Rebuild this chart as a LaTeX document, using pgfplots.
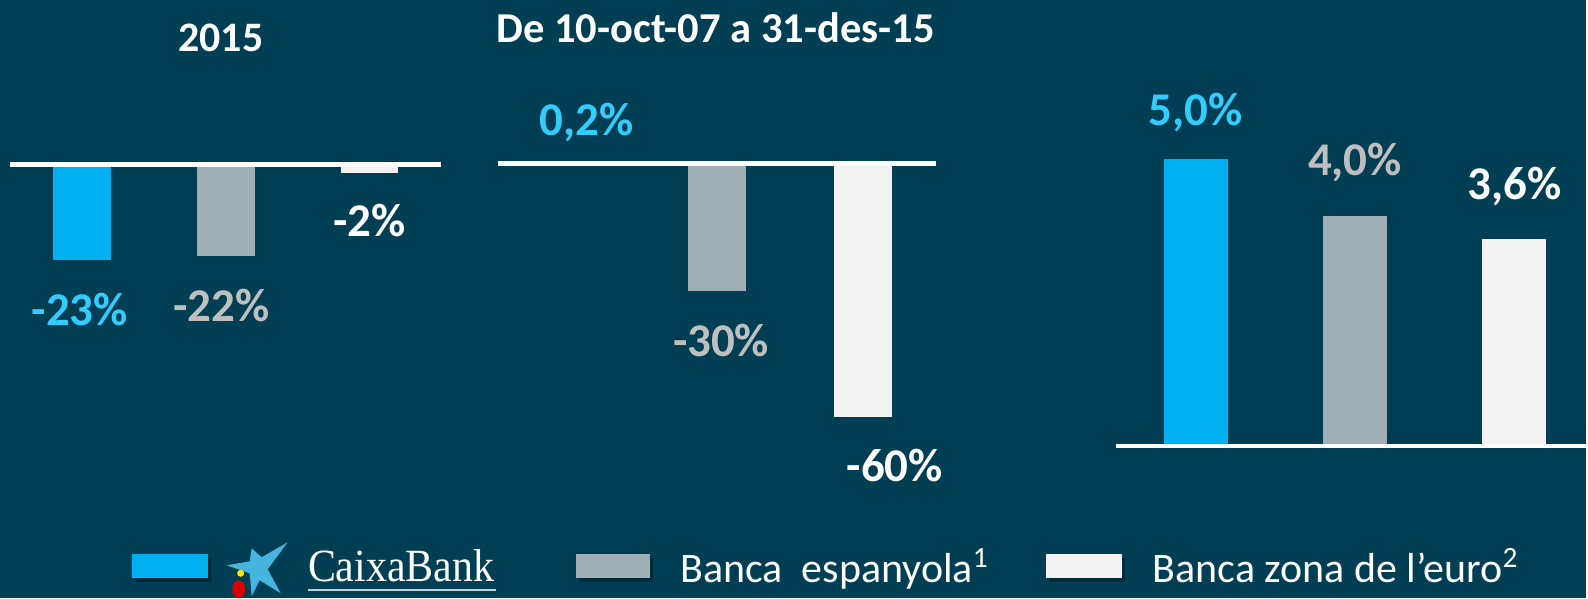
\documentclass[border=0pt]{standalone}
\usepackage{pgfplots}
\pgfplotsset{compat=1.18}
\usepackage{fontspec}
\setmainfont{Carlito}
\newfontfamily\logofont{Liberation Serif}

\definecolor{bg}{HTML}{003E53}
\definecolor{cbcyan}{HTML}{00B0F0}
\definecolor{cbgray}{HTML}{A0AEB6}
\definecolor{cbwhite}{HTML}{F2F2F2}
\definecolor{labcyan}{HTML}{33CCFF}
\definecolor{labgray}{HTML}{BFBFBF}
\definecolor{starblue}{HTML}{45B5E0}
\definecolor{cbline}{HTML}{C8D0D8}

\pgfplotsset{
  panel/.style={hide axis, clip=false, anchor=south west, ybar,
    point meta=explicit symbolic, nodes near coords,
    nodes near coords style={font=\bfseries\fontsize{23.5}{27}\selectfont, anchor=center}},
  cb/.style={draw=none, bar shift=0pt},
}

\begin{document}
\begin{tikzpicture}
\fill[bg] (0,0) rectangle (794pt,299.5pt);

% titles
\node[anchor=base, white, font=\bfseries\fontsize{21}{24}\selectfont, inner sep=0] at (110.5pt,273.5pt) {2015};
\node[anchor=base, white, font=\bfseries\fontsize{21.3}{24}\selectfont, inner sep=0] at (358.25pt,278pt) {De 10-oct-07 a 31-des-15};

% 2015
\begin{axis}[panel, at={(5pt,165.375pt)}, x=72pt, y=2.065pt,
  xmin=-0.5, xmax=2.5, ymin=-25, ymax=0]
\addplot[cb, fill=cbcyan, bar width=29pt, nodes near coords style={text=labcyan, yshift=-25pt, xshift=-1pt}]
  coordinates {(0,-23) [-23\%]};
\addplot[cb, fill=cbgray, bar width=29pt, nodes near coords style={text=labgray, yshift=-25pt, xshift=-2pt}]
  coordinates {(1,-22) [-22\%]};
\addplot[cb, fill=cbwhite, bar width=29pt, nodes near coords style={text=white, yshift=-24pt}]
  coordinates {(2,-2) [-2\%]};
\draw[white, line width=2.5pt] (axis cs:-0.5,0) -- (axis cs:2.5,0);
\end{axis}

% 10-oct-07 a 31-des-15
\begin{axis}[panel, at={(249.5pt,86.35pt)}, x=73pt, y=2.115pt,
  xmin=-0.5, xmax=2.5, ymin=-62, ymax=1]
\addplot[cb, fill=cbcyan, bar width=29pt, nodes near coords style={text=labcyan, yshift=20.5pt, xshift=7.5pt}]
  coordinates {(0,0.2) [0,2\%]};
\addplot[cb, fill=cbgray, bar width=29pt, nodes near coords style={text=labgray, yshift=-25pt, xshift=2pt}]
  coordinates {(1,-30) [-30\%]};
\addplot[cb, fill=cbwhite, bar width=29pt, nodes near coords style={text=white, yshift=-24pt, xshift=16pt}]
  coordinates {(2,-60) [-60\%]};
\draw[white, line width=2.5pt] (axis cs:-0.5,0) -- (axis cs:2.5,0);
\end{axis}

% third panel
\begin{axis}[panel, at={(558.75pt,76pt)}, x=79.75pt, y=28.8pt,
  xmin=-0.5, xmax=2.45, ymin=0, ymax=5.5]
\addplot[cb, fill=cbcyan, bar width=32pt, nodes near coords style={text=labcyan, yshift=23pt}]
  coordinates {(0,5.0) [5,0\%]};
\addplot[cb, fill=cbgray, bar width=32pt, nodes near coords style={text=labgray, yshift=27pt}]
  coordinates {(1,4.0) [4,0\%]};
\addplot[cb, fill=cbwhite, bar width=32pt, nodes near coords style={text=white, yshift=26.5pt}]
  coordinates {(2,3.6) [3,6\%]};
\draw[white, line width=2pt] (axis cs:-0.5,0) -- (axis cs:2.45,0);
\end{axis}

% legend, in pixel units of the reference
\begin{scope}[x=0.5pt, y=-0.5pt, yshift=299.5pt]
\fill[black, opacity=0.3] (135,559) rectangle (211,583);
\fill[cbcyan] (132,555) rectangle (208,579);
\fill[black, opacity=0.3] (580,559) rectangle (654,583);
\fill[cbgray] (577,555) rectangle (651,579);
\fill[black, opacity=0.3] (1050,559) rectangle (1126,583);
\fill[cbwhite] (1047,555) rectangle (1123,579);
% logo
\fill[starblue] (227,566) -- (250,562) -- (252,549) -- (262,558) -- (288,543)
  -- (268,570) -- (281,594) -- (260,581) -- (252,597) -- (250,574) -- cycle;
\fill[yellow!90!orange] (241,574) circle (3.5);
\fill[red!85!black] (239,590) ellipse (6.5 and 9);
\node[anchor=base west, white, font=\logofont\fontsize{21}{24}\selectfont, inner sep=0, yscale=1.1] at (308,582) {CaixaBank};
\draw[cbline, line width=1pt] (308,591) -- (497,591);
\node[anchor=base west, white, font=\fontsize{21}{24}\selectfont, inner sep=0] at (681,583) {Banca\ \ espanyola\textsuperscript{1}};
\node[anchor=base west, white, font=\fontsize{21}{24}\selectfont, inner sep=0] at (1154,583) {Banca zona de l’euro\textsuperscript{2}};
\end{scope}
\end{tikzpicture}
\end{document}
